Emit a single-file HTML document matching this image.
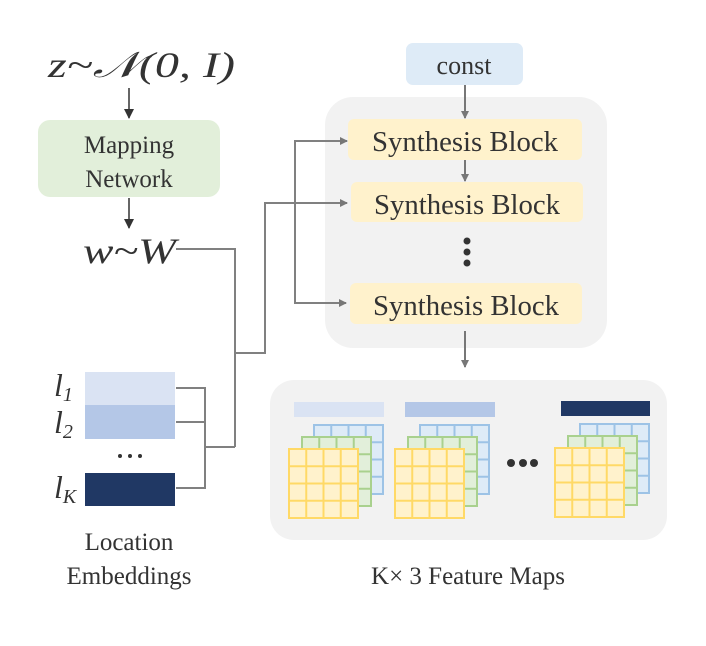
<!DOCTYPE html>
<html><head><style>body{margin:0;background:#fff}svg{display:block}</style></head>
<body>
<svg id="s" width="706" height="646" viewBox="0 0 706 646" xmlns="http://www.w3.org/2000/svg" font-family="Liberation Serif, serif" fill="#333">
<defs><marker id="a" markerWidth="8" markerHeight="8" refX="7" refY="4" orient="auto" markerUnits="userSpaceOnUse"><path d="M0,0 L8,4 L0,8z" fill="#777"/></marker>
<marker id="b" markerWidth="10" markerHeight="10" refX="9" refY="5" orient="auto" markerUnits="userSpaceOnUse"><path d="M0,0 L10,5 L0,10z" fill="#333"/></marker></defs>
<text x="48" y="77" font-size="36" font-style="italic" textLength="187" lengthAdjust="spacingAndGlyphs">z~𝒩(0, I)</text>
<line x1="129" y1="88" x2="129" y2="118" stroke="#333" stroke-width="1.5" marker-end="url(#b)"/>
<rect x="38" y="120" width="182" height="77" rx="12" fill="#e2efda"/>
<text x="129" y="153" font-size="25" text-anchor="middle">Mapping</text>
<text x="129" y="187" font-size="25" text-anchor="middle">Network</text>
<line x1="129" y1="198" x2="129" y2="228" stroke="#333" stroke-width="1.5" marker-end="url(#b)"/>
<text x="83" y="263" font-size="36" font-style="italic" textLength="93" lengthAdjust="spacingAndGlyphs">w~W</text>
<rect x="406" y="43" width="117" height="42" rx="7" fill="#deebf7"/>
<text x="464" y="74" font-size="26" text-anchor="middle">const</text>
<rect x="325" y="97" width="282" height="251" rx="28" fill="#f2f2f2"/>
<line x1="465" y1="85" x2="465" y2="118" stroke="#777" stroke-width="2" marker-end="url(#a)"/>
<rect x="348" y="119" width="234" height="41" rx="6" fill="#fff2cc"/>
<text x="465" y="151" font-size="28" text-anchor="middle" textLength="186" lengthAdjust="spacingAndGlyphs">Synthesis Block</text>
<line x1="465" y1="160" x2="465" y2="181" stroke="#777" stroke-width="2" marker-end="url(#a)"/>
<rect x="351" y="182" width="232" height="40" rx="6" fill="#fff2cc"/>
<text x="467" y="214" font-size="28" text-anchor="middle" textLength="186" lengthAdjust="spacingAndGlyphs">Synthesis Block</text>
<circle cx="467" cy="241" r="3.5" fill="#333"/><circle cx="467" cy="252" r="3.5" fill="#333"/><circle cx="467" cy="263" r="3.5" fill="#333"/>
<rect x="350" y="283" width="232" height="41" rx="6" fill="#fff2cc"/>
<text x="466" y="315" font-size="28" text-anchor="middle" textLength="186" lengthAdjust="spacingAndGlyphs">Synthesis Block</text>
<line x1="465" y1="331" x2="465" y2="367" stroke="#777" stroke-width="2" marker-end="url(#a)"/>
<g fill="none" stroke="#808080" stroke-width="2">
<polyline points="176,249 235,249 235,447"/>
<polyline points="176,388 205,388 205,488 176,488"/>
<line x1="176" y1="422" x2="205" y2="422"/>
<line x1="205" y1="447" x2="235" y2="447"/>
<polyline points="235,353 265,353 265,203 347,203" marker-end="url(#a)"/>
<polyline points="346,141 295,141 295,303 346,303" marker-end="url(#a)"/>
<line x1="295" y1="141" x2="347" y2="141" marker-end="url(#a)"/>
</g>
<rect x="85" y="372" width="90" height="33" fill="#dae3f3"/>
<rect x="85" y="405" width="90" height="34" fill="#b4c7e7"/>
<rect x="85" y="473" width="90" height="33" fill="#203864"/>
<circle cx="120" cy="456" r="2" /><circle cx="130" cy="456" r="2"/><circle cx="140" cy="456" r="2"/>
<text x="54" y="396" font-size="32" font-style="italic">l<tspan font-size="20" dy="5">1</tspan></text>
<text x="54" y="433" font-size="32" font-style="italic">l<tspan font-size="20" dy="5">2</tspan></text>
<text x="54" y="498" font-size="32" font-style="italic">l<tspan font-size="20" dy="5">K</tspan></text>
<text x="129" y="550" font-size="25" text-anchor="middle">Location</text>
<text x="129" y="584" font-size="25" text-anchor="middle">Embeddings</text>
<rect x="270" y="380" width="397" height="160" rx="24" fill="#f2f2f2"/>
<rect x="294" y="402" width="90" height="15" fill="#dae3f3"/>
<rect x="405" y="402" width="90" height="15" fill="#b4c7e7"/>
<rect x="561" y="401" width="89" height="15" fill="#203864"/>
<g id="grids"></g>
<circle cx="511" cy="463" r="4"/><circle cx="523" cy="463" r="4"/><circle cx="534" cy="463" r="4"/>
<text x="468" y="584" font-size="25" text-anchor="middle">K× 3 Feature Maps</text>
</svg>
<script>
var g=document.getElementById('grids'),h='';
function grid(x,y,f,s){h+='<rect x="'+x+'" y="'+y+'" width="69" height="69" fill="'+f+'" stroke="'+s+'" stroke-width="2"/>';
for(var i=1;i<4;i++){var d=i*69/4;h+='<line x1="'+(x+d)+'" y1="'+y+'" x2="'+(x+d)+'" y2="'+(y+69)+'" stroke="'+s+'" stroke-width="2"/><line x1="'+x+'" y1="'+(y+d)+'" x2="'+(x+69)+'" y2="'+(y+d)+'" stroke="'+s+'" stroke-width="2"/>';}}
[[289,449],[395,449],[555,448]].forEach(function(p){grid(p[0]+25,p[1]-24,'#deebf7','#9dc3e6');grid(p[0]+13,p[1]-12,'#e2efda','#a9d18e');grid(p[0],p[1],'#fff2cc','#ffd966');});
g.innerHTML=h;
</script>
</body></html>
